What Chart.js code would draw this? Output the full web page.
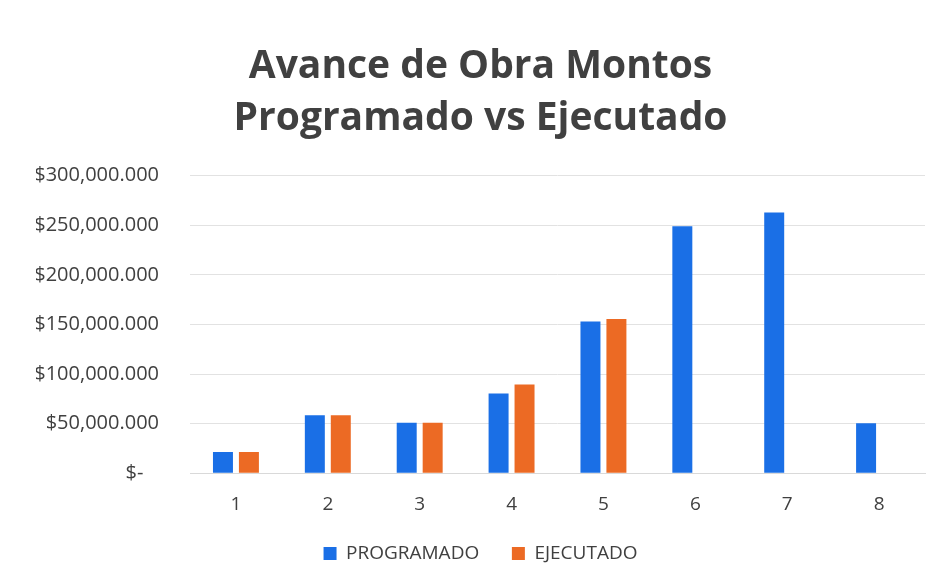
<!DOCTYPE html>
<html>
<head>
<meta charset="utf-8">
<script src="https://cdn.jsdelivr.net/npm/chart.js@4/dist/chart.umd.min.js"></script>
<style>
  html, body { margin: 0; padding: 0; background: #fff; }
  #wrap { position: relative; width: 944px; height: 586px; }
  canvas { display: block; }
</style>
</head>
<body>
<div id="wrap"><canvas id="c" width="944" height="586"></canvas></div>
<script>
const categories = ['1', '2', '3', '4', '5', '6', '7', '8'];
const programado = [21500000, 58500000, 51000000, 80500000, 153000000, 249000000, 263000000, 50500000];
const ejecutado = [21500000, 58500000, 51000000, 89500000, 155500000, null, null, null];
const yTicks = [0, 50000000, 100000000, 150000000, 200000000, 250000000, 300000000];
const titleLines = ['Avance de Obra Montos', 'Programado vs Ejecutado'];
const seriesNames = ['PROGRAMADO', 'EJECUTADO'];

const textColor = '#404040';
const fontFam = "'Open Sans', 'Liberation Sans', sans-serif";

function fmt(v) {
  if (v === 0) return '$-   ';
  return '$' + (v / 1000).toLocaleString('en-US') + '.000';
}

new Chart(document.getElementById('c'), {
  type: 'bar',
  data: {
    labels: categories,
    datasets: [
      { label: seriesNames[0], data: programado, backgroundColor: '#1a6fe6', categoryPercentage: 0.565, barPercentage: 0.77 },
      { label: seriesNames[1], data: ejecutado, backgroundColor: '#ec6a24', categoryPercentage: 0.565, barPercentage: 0.77 }
    ]
  },
  options: {
    responsive: false,
    animation: false,
    layout: { padding: { top: 4, left: 36, right: 19, bottom: 13 } },
    plugins: {
      title: {
        display: true,
        text: titleLines,
        color: '#404040',
        font: { family: fontFam, size: 39, weight: 'bold', lineHeight: 1.33 },
        padding: { top: 37, bottom: 31 }
      },
      legend: {
        position: 'bottom',
        labels: {
          color: textColor,
          boxWidth: 13,
          boxHeight: 13,
          padding: 8,
          font: { family: fontFam, size: 19 },
          generateLabels: (chart) => {
            const items = Chart.defaults.plugins.legend.labels.generateLabels(chart);
            items.forEach((it, i) => { if (i < items.length - 1) it.text = it.text + '     '; });
            return items;
          }
        }
      },
      tooltip: { enabled: false }
    },
    scales: {
      x: {
        grid: { display: false, drawTicks: false },
        border: { display: true, color: '#d9d9d9' },
        ticks: { color: textColor, font: { family: fontFam, size: 19 }, padding: 20 }
      },
      y: {
        min: 0,
        max: 300000000,
        afterBuildTicks: (s) => { s.ticks = yTicks.map(v => ({ value: v })); },
        afterFit: (s) => { s.width = 154; },
        grid: { color: '#e2e2e2', drawTicks: false },
        border: { display: false },
        ticks: { color: textColor, font: { family: fontFam, size: 20 }, padding: 31, callback: fmt }
      }
    }
  }
});
</script>
</body>
</html>
